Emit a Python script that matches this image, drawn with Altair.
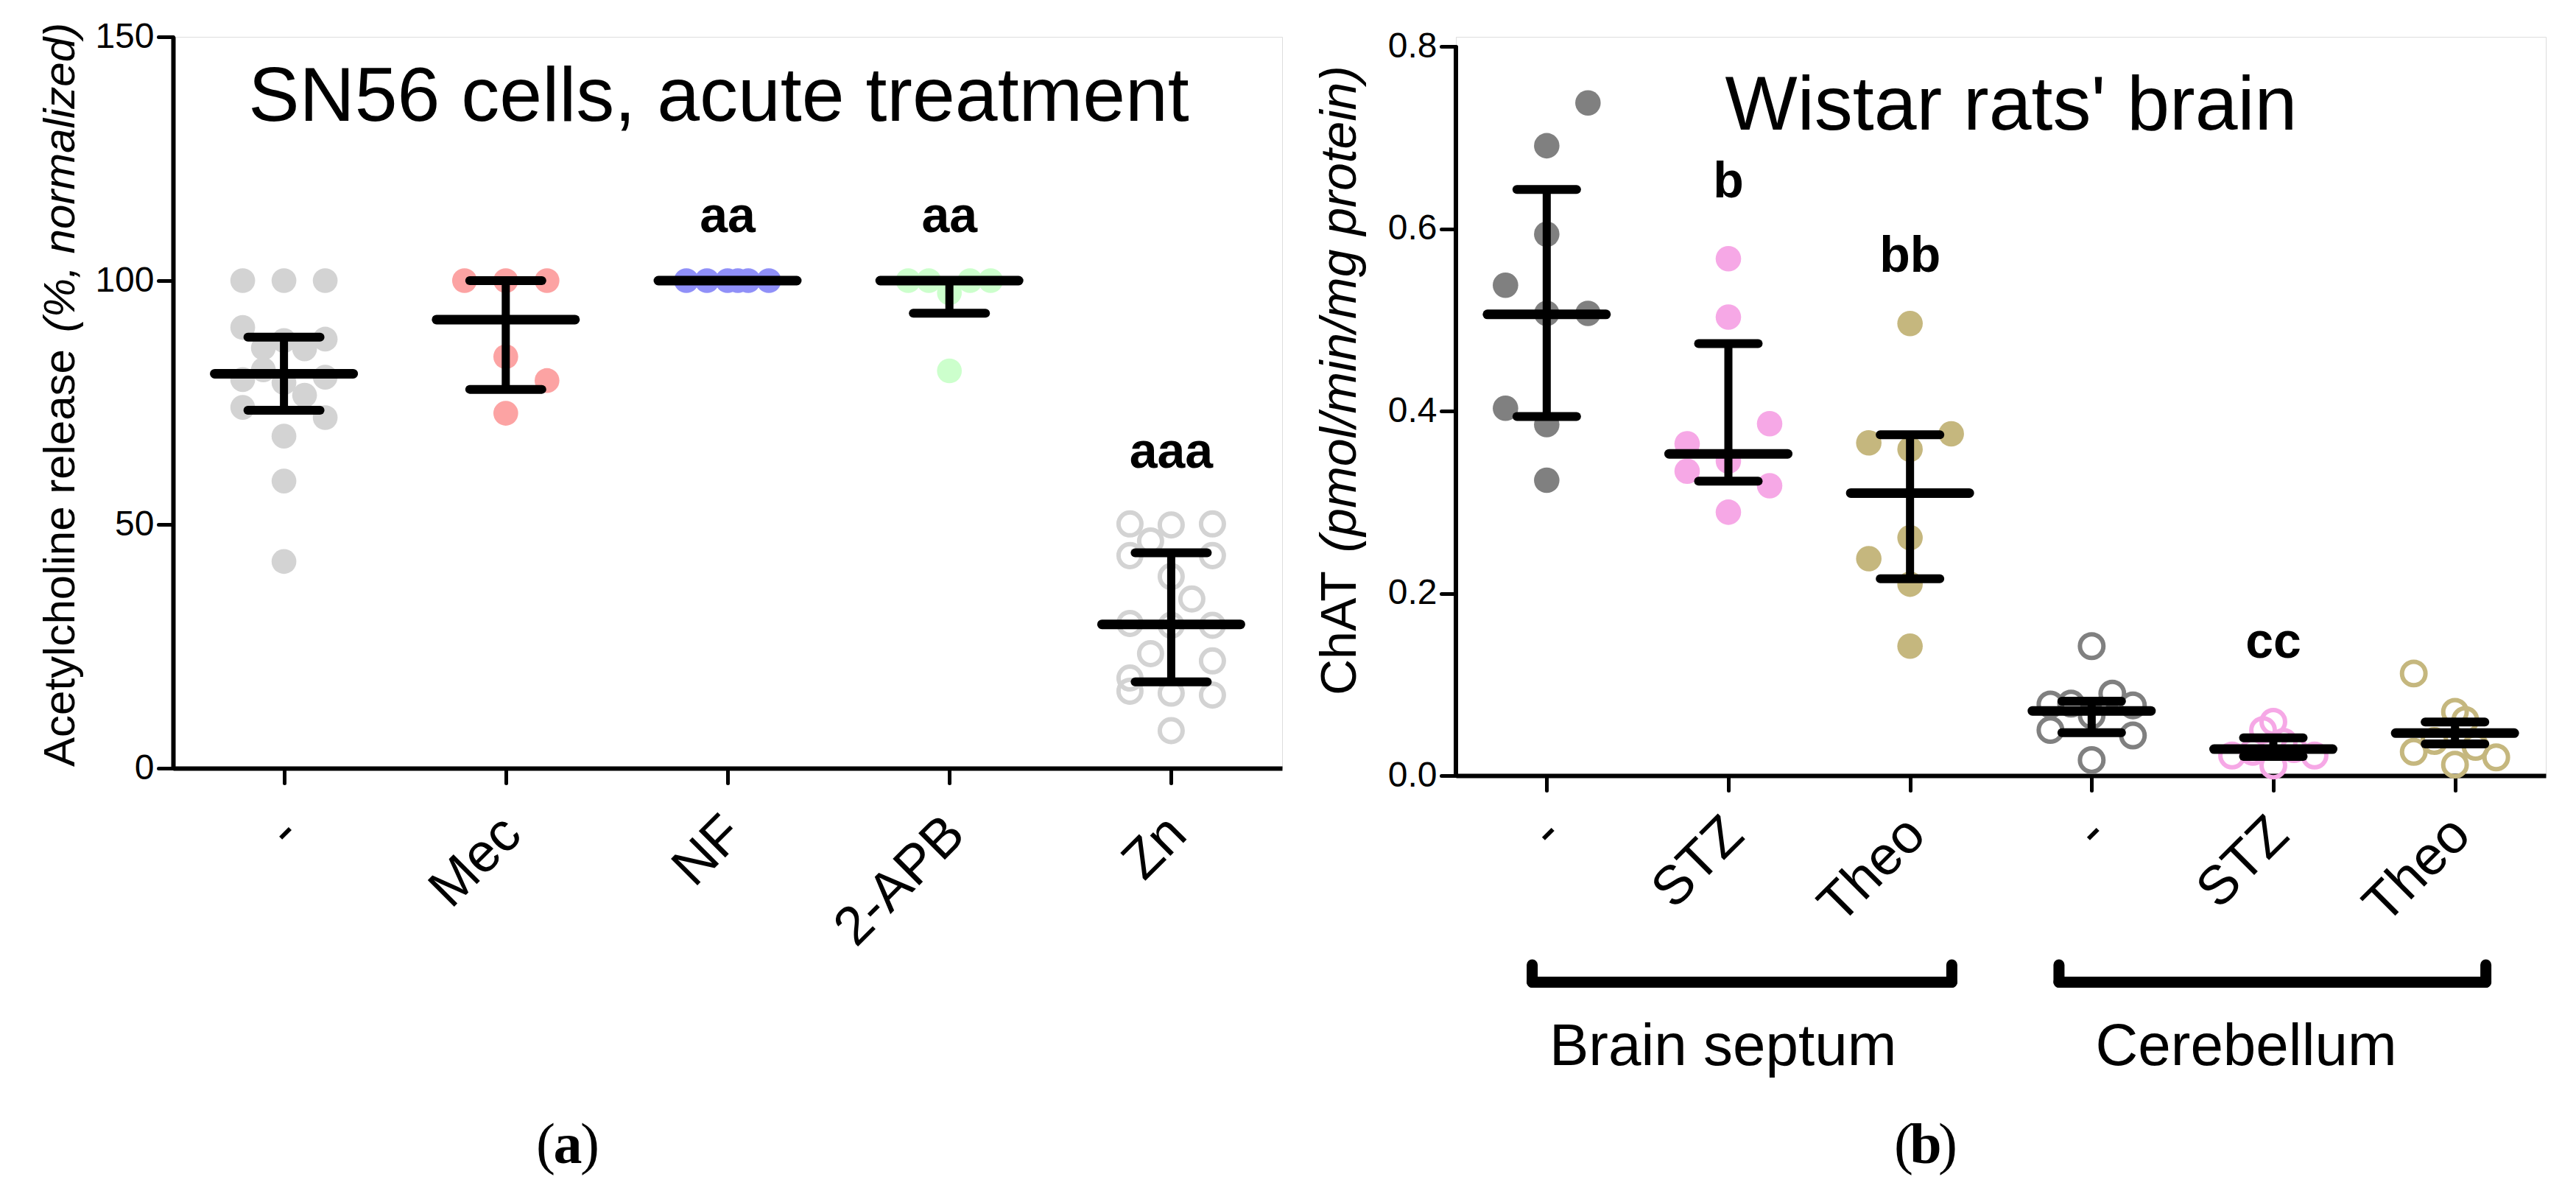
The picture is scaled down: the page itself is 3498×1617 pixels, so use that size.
import json
import altair as alt
import pandas as pd

FONT = "Liberation Sans"

# ---------------- Panel (a): SN56 cells ----------------
A_GROUPS = ["-", "Mec", "NF", "2-APB", "Zn"]
A_CTRL = [100, 100, 100, 90.4, 87.7, 88.0, 86.2, 86.0, 81.7, 79.7, 79.1, 80.2, 76.5, 74.0, 71.9, 68.1, 58.9, 42.4]
A_CTRL_COL = [-2, 0, 2, -2, 0, 2, -1, 1, -1, -2, 0, 2, 1, -2, 2, 0, 0, 0]
A_MEC = [100, 100, 100, 84.4, 79.5, 72.8]
A_MEC_COL = [-2, 0, 2, 0, 2, 0]
A_NF = [100, 100, 100, 100, 100, 100]
A_NF_COL = [-2, -1, 0, 0.5, 1, 2]
A_APB = [100, 100, 100, 100, 97.5, 81.5]
A_APB_COL = [-2, -1, 1, 2, 0, 0]
A_ZN = [50.1, 49.9, 50.1, 46.6, 43.6, 43.6, 39.3, 34.7, 29.7, 29.3, 29.3, 23.5, 22.0, 18.5, 15.8, 15.4, 15.0, 7.7]
A_ZN_COL = [-2, 0, 2, -1, -2, 2, 0, 1, -2, 0, 2, -1, 2, -2, -2, 0, 2, 0]
A_MEDIAN = [80.9, 92.0, 100, 100, 29.5]
A_Q1 = [73.4, 77.7, 100, 93.3, 17.7]
A_Q3 = [88.4, 100, 100, 100, 44.2]
A_COLORS = ["#d3d3d3", "#fca3a3", "#9090f8", "#ccffcc", "#d3d3d3"]
A_FILLED = [True, True, True, True, False]
A_SIG = ["aa", "aa", "aaa"]
A_SIG_AT = [2, 3, 4]
A_SIG_Y = [109.9, 109.9, 61.7]

# ---------------- Panel (b): Wistar rats' brain ----------------
B_GROUPS = ["-", "STZ", "Theo", "-", "STZ", "Theo"]
B_SEP_CTRL = [0.738, 0.691, 0.594, 0.538, 0.507, 0.507, 0.403, 0.385, 0.324]
B_SEP_CTRL_COL = [2, 0, 0, -2, 0, 2, -2, 0, 0]
B_SEP_STZ = [0.567, 0.503, 0.386, 0.364, 0.345, 0.334, 0.318, 0.289]
B_SEP_STZ_COL = [0, 0, 2, -2, 0, -2, 2, 0]
B_SEP_THEO = [0.496, 0.375, 0.365, 0.358, 0.261, 0.238, 0.210, 0.142]
B_SEP_THEO_COL = [0, 2, -2, 0, 0, -2, 0, 0]
B_CER_CTRL = [0.142, 0.090, 0.079, 0.078, 0.077, 0.066, 0.050, 0.044, 0.017]
B_CER_CTRL_COL = [0, 1, -1, -2, 2, 0, -2, 2, 0]
B_CER_STZ = [0.059, 0.050, 0.037, 0.029, 0.026, 0.022, 0.022, 0.011]
B_CER_STZ_COL = [0, -0.5, 0.5, 1, -1, -2, 2, 0]
B_CER_THEO = [0.112, 0.070, 0.061, 0.038, 0.0315, 0.026, 0.020, 0.012]
B_CER_THEO_COL = [-2, 0, 0.5, -1, 1, -2, 2, 0]
B_MEDIAN = [0.506, 0.353, 0.310, 0.071, 0.029, 0.0466]
B_Q1 = [0.394, 0.323, 0.216, 0.047, 0.021, 0.0347]
B_Q3 = [0.643, 0.474, 0.374, 0.0816, 0.0415, 0.0587]
B_COLORS = ["#808080", "#f6a8e6", "#c5b77e", "#808080", "#f6a8e6", "#c5b77e"]
B_FILLED = [True, True, True, False, False, False]
B_SIG = ["b", "bb", "cc"]
B_SIG_AT = [1, 2, 4]
B_SIG_Y = [0.634, 0.553, 0.129]
B_REGIONS = ["Brain septum", "Cerebellum"]
B_REGION_LO = [-0.08, 2.82]
B_REGION_HI = [2.23, 5.17]
B_REGION_X = [0.97, 3.85]

# ---------------- layout / style ----------------
A_W, A_H = 1506, 993
B_W, B_H = 1480, 1003
GAP = 236
B_YMAX = 0.8 * B_H / 990


def axis_x(groups, pad):
    return alt.Axis(
        values=list(range(len(groups))),
        labelExpr=json.dumps(groups) + "[datum.value]",
        labelAngle=315, labelAlign="right", labelBaseline="alphabetic",
        labelFont=FONT, labelFontSize=74, labelColor="black", labelLimit=0,
        labelPadding=pad, labelOffset=24, labelFlush=False,
        labelOverlap=False, labelBound=False,
        tickSize=20, tickWidth=5, tickColor="black", tickCap="round",
        domainColor="black", domainWidth=6, grid=False, title=None)


def axis_y(values, fmt, domain=True):
    return alt.Axis(
        values=values, format=fmt, labelFont=FONT, labelFontSize=48,
        labelColor="black", labelPadding=6, tickSize=20, tickWidth=5,
        tickColor="black", tickCap="round", domain=domain,
        domainColor="black", domainWidth=6, grid=False, title=None)


def panel(groups, series, colors, filled, med, q1, q3, sig, sig_at, sig_y,
          width, height, ymax, yticks, yfmt, ydomain, label_pad,
          mean_half, cap_half, fsize, osize):
    n = len(groups)
    step = width / n
    slot = 28.0 / step
    rows = []
    for i, (vals, cols) in enumerate(series):
        for v, c in zip(vals, cols):
            rows.append({"x": i + c * slot, "v": v, "color": colors[i], "filled": filled[i]})
    pts = pd.DataFrame(rows)
    st = pd.DataFrame({"i": list(range(n)), "med": med, "q1": q1, "q3": q3})
    st["m1"] = st["i"] - mean_half / step
    st["m2"] = st["i"] + mean_half / step
    st["c1"] = st["i"] - cap_half / step
    st["c2"] = st["i"] + cap_half / step
    sg = pd.DataFrame({"i": sig_at, "y": sig_y, "t": sig})

    xs = alt.Scale(domain=[-0.5, n - 0.5], nice=False, zero=False)
    ys = alt.Scale(domain=[0, ymax], nice=False, zero=True)
    xa = axis_x(groups, label_pad)
    ya = axis_y(yticks, yfmt, ydomain)

    def X(f):
        return alt.X(f, type="quantitative", scale=xs, axis=xa)

    def Y(f):
        return alt.Y(f, type="quantitative", scale=ys, axis=ya)

    filled_pts = alt.Chart(pts[pts["filled"]]).mark_circle(size=fsize, opacity=1).encode(
        x=X("x"), y=Y("v"), color=alt.Color("color:N", scale=None))
    layers = [filled_pts]
    open_df = pts[~pts["filled"]]
    if len(open_df):
        layers.append(alt.Chart(open_df).mark_point(
            shape="circle", filled=False, size=osize, strokeWidth=6, opacity=1).encode(
            x=X("x"), y=Y("v"), color=alt.Color("color:N", scale=None)))
    base = alt.Chart(st)
    layers.append(base.mark_rule(color="black", strokeWidth=11).encode(
        x=X("i"), y=Y("q1"), y2="q3"))
    layers.append(base.mark_rule(color="black", strokeWidth=12, strokeCap="round").encode(
        x=X("c1"), x2="c2", y=Y("q1")))
    layers.append(base.mark_rule(color="black", strokeWidth=12, strokeCap="round").encode(
        x=X("c1"), x2="c2", y=Y("q3")))
    layers.append(base.mark_rule(color="black", strokeWidth=13, strokeCap="round").encode(
        x=X("m1"), x2="m2", y=Y("med")))
    layers.append(alt.Chart(sg).mark_text(
        font=FONT, fontWeight="bold", fontSize=68, baseline="alphabetic", align="center",
        color="black").encode(x=X("i"), y=Y("y"), text="t:N"))
    return layers, X, Y


one = pd.DataFrame({"k": [0]})


def txt(text, x, y, size, **kw):
    return alt.Chart(one).mark_text(text=text, fontSize=size, color="black", **kw).encode(
        x=alt.value(x), y=alt.value(y))


# ---------- panel (a) ----------
a_layers, aX, aY = panel(
    A_GROUPS,
    [(A_CTRL, A_CTRL_COL), (A_MEC, A_MEC_COL), (A_NF, A_NF_COL), (A_APB, A_APB_COL), (A_ZN, A_ZN_COL)],
    A_COLORS, A_FILLED, A_MEDIAN, A_Q1, A_Q3, A_SIG, A_SIG_AT, A_SIG_Y,
    A_W, A_H, 150, [0, 50, 100, 150], "d", True, 73, 94, 49, 1134, 962)

a_extra = [
    alt.Chart(one).mark_rect(opacity=0).encode(
        x=alt.value(-226), x2=alt.value(-225), y=alt.value(-41), y2=alt.value(-40)),
    txt("SN56 cells, acute treatment", 741, 114, 104, font=FONT, align="center", baseline="alphabetic"),
    txt("Acetylcholine release", -134, 991, 60, font=FONT, angle=270, align="left", baseline="alphabetic"),
    txt("(%, normalized)", -134, -19, 60, font=FONT, fontStyle="italic", angle=270, align="right",
        baseline="alphabetic"),
    txt("(", 536 - 17, 1529, 78, font="Liberation Serif", align="right", baseline="alphabetic"),
    txt("a", 536, 1529, 78, font="Liberation Serif", fontWeight="bold", align="center", baseline="alphabetic"),
    txt(")", 536 + 17, 1529, 78, font="Liberation Serif", align="left", baseline="alphabetic"),
]
left = alt.layer(*(a_layers + a_extra)).properties(width=A_W, height=A_H)

# ---------- panel (b) ----------
b_layers, bX, bY = panel(
    B_GROUPS,
    [(B_SEP_CTRL, B_SEP_CTRL_COL), (B_SEP_STZ, B_SEP_STZ_COL), (B_SEP_THEO, B_SEP_THEO_COL),
     (B_CER_CTRL, B_CER_CTRL_COL), (B_CER_STZ, B_CER_STZ_COL), (B_CER_THEO, B_CER_THEO_COL)],
    B_COLORS, B_FILLED, B_MEDIAN, B_Q1, B_Q3, B_SIG, B_SIG_AT, B_SIG_Y,
    B_W, B_H, B_YMAX, [0, 0.2, 0.4, 0.6, 0.8], ".1f", False, 64, 80.5, 40.5, 1195, 1018)

yline = pd.DataFrame({"x0": [-0.5], "lo": [0.0], "hi": [0.8]})
reg = pd.DataFrame({"lo": B_REGION_LO, "hi": B_REGION_HI, "cx": B_REGION_X, "name": B_REGIONS})
ends = pd.DataFrame({"xv": B_REGION_LO + B_REGION_HI})

b_extra = [
    alt.Chart(yline).mark_rule(color="black", strokeWidth=6).encode(
        x=alt.value(0), y=bY("lo"), y2="hi"),
    alt.Chart(reg).mark_rule(color="black", strokeWidth=15, strokeCap="round").encode(
        x=bX("lo"), x2="hi", y=alt.value(1283.5)),
    alt.Chart(ends).mark_rule(color="black", strokeWidth=15, strokeCap="round").encode(
        x=bX("xv"), y=alt.value(1260), y2=alt.value(1283.5)),
    alt.Chart(reg).mark_text(font=FONT, fontSize=80, color="black", align="center",
                             baseline="alphabetic").encode(
        x=bX("cx"), y=alt.value(1396), text="name:N"),
    txt("Wistar rats' brain", 754, 126, 104, font=FONT, align="center", baseline="alphabetic"),
    txt("ChAT", -136, 894, 68, font=FONT, angle=270, align="left", baseline="alphabetic"),
    txt("(pmol/min/mg protein)", -136, 39, 68, font=FONT, fontStyle="italic", angle=270,
        align="right", baseline="alphabetic"),
    txt("(", 638 - 17, 1529, 78, font="Liberation Serif", align="right", baseline="alphabetic"),
    txt("b", 638, 1529, 78, font="Liberation Serif", fontWeight="bold", align="center", baseline="alphabetic"),
    txt(")", 638 + 17, 1529, 78, font="Liberation Serif", align="left", baseline="alphabetic"),
]
right = alt.layer(*(b_layers + b_extra)).properties(width=B_W, height=B_H)

chart = alt.hconcat(left, right, spacing=GAP, bounds="flush").properties(
    padding=0
).configure_view(stroke=None).configure(background="white")

chart.save("out.html", embed_options={"renderer": "svg", "actions": False})
